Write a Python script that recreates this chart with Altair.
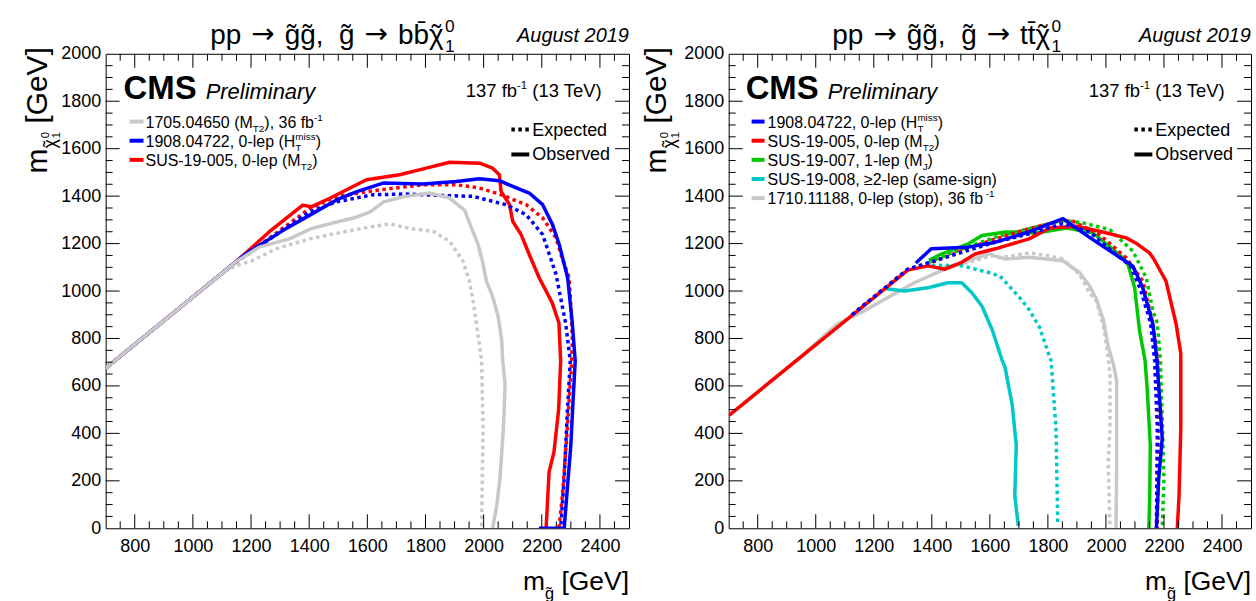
import altair as alt
import pandas as pd

FONT = "Liberation Sans"
PW_L, PW_R, PH = 525, 524, 476

# ---------------- data: left panel (g~ -> b b chi) ----------------
L_GREY_OBS_X = [700, 1150, 1228, 1332, 1407, 1494, 1560, 1610, 1656, 1700, 1726, 1814, 1883, 1935, 1958, 1980, 1995, 2010, 2030, 2050, 2062, 2066, 2074, 2068, 2056, 2045, 2031]
L_GREY_OBS_Y = [675, 1125, 1185, 1220, 1263, 1291, 1310, 1334, 1376, 1390, 1398, 1413, 1392, 1340, 1266, 1200, 1130, 1040, 980, 893, 794, 700, 606, 422, 209, 95, 0]
L_GREY_EXP_X = [700, 1100, 1146, 1204, 1286, 1402, 1517, 1610, 1677, 1749, 1826, 1883, 1929, 1951, 1965, 1975, 1993, 1998, 1993]
L_GREY_EXP_Y = [675, 1075, 1106, 1128, 1178, 1220, 1249, 1270, 1283, 1263, 1252, 1210, 1126, 1042, 950, 865, 709, 422, 0]
L_RED_OBS_X = [700, 1150, 1262, 1378, 1407, 1471, 1597, 1711, 1803, 1883, 1986, 2031, 2054, 2060, 2089, 2100, 2129, 2157, 2191, 2236, 2259, 2265, 2258, 2242, 2225, 2215]
L_RED_OBS_Y = [675, 1125, 1249, 1362, 1355, 1391, 1469, 1490, 1518, 1543, 1539, 1518, 1490, 1420, 1364, 1294, 1238, 1154, 1056, 950, 865, 706, 500, 322, 237, 0]
L_RED_EXP_X = [700, 1150, 1181, 1402, 1494, 1620, 1791, 1906, 1986, 2054, 2146, 2203, 2249, 2271, 2294, 2300, 2305, 2303, 2288, 2271, 2259]
L_RED_EXP_Y = [675, 1125, 1149, 1348, 1398, 1423, 1448, 1448, 1434, 1409, 1364, 1308, 1224, 1135, 1056, 936, 800, 706, 422, 138, 0]
L_BLUE_OBS_X = [700, 1150, 1181, 1320, 1402, 1494, 1564, 1654, 1791, 1906, 1986, 2054, 2100, 2157, 2203, 2237, 2260, 2289, 2305, 2315, 2306, 2300, 2277, 2190]
L_BLUE_OBS_Y = [675, 1125, 1156, 1263, 1320, 1384, 1419, 1455, 1451, 1462, 1473, 1465, 1441, 1413, 1364, 1280, 1196, 1056, 865, 706, 500, 351, 0, 0]
L_BLUE_EXP_X = [700, 1150, 1181, 1402, 1494, 1620, 1734, 1848, 1963, 2077, 2146, 2203, 2249, 2282, 2298, 2288, 2277, 2265]
L_BLUE_EXP_Y = [675, 1125, 1149, 1334, 1376, 1406, 1409, 1403, 1399, 1364, 1322, 1238, 1070, 865, 706, 493, 209, 0]

# ---------------- data: right panel (g~ -> t t chi) ----------------
R_GREY_OBS_X = [700, 950, 1073, 1154, 1236, 1340, 1445, 1526, 1596, 1654, 1735, 1851, 1909, 1944, 1968, 1991, 2008, 2026, 2037, 2037, 2035]
R_GREY_OBS_Y = [475, 725, 860, 908, 964, 1035, 1092, 1128, 1156, 1135, 1142, 1128, 1078, 1021, 964, 879, 766, 690, 621, 280, 0]
R_GREY_EXP_X = [1440, 1503, 1608, 1635, 1738, 1806, 1851, 1910, 1944, 1967, 1990, 2003, 2014, 2014, 2008, 2014]
R_GREY_EXP_Y = [1100, 1114, 1149, 1140, 1161, 1147, 1135, 1070, 990, 958, 860, 766, 652, 422, 280, 0]
R_CYAN_OBS_X = [1236, 1305, 1387, 1456, 1503, 1538, 1573, 1608, 1642, 1652, 1677, 1691, 1686, 1698]
R_CYAN_OBS_Y = [1011, 1000, 1014, 1035, 1035, 993, 936, 837, 709, 680, 521, 351, 138, 10]
R_CYAN_EXP_X = [1400, 1503, 1596, 1635, 1677, 1703, 1735, 1772, 1782, 1811, 1828, 1834]
R_CYAN_EXP_Y = [1108, 1107, 1078, 1063, 1007, 972, 922, 846, 808, 706, 422, 20]
R_GREEN_OBS_X = [1390, 1433, 1526, 1573, 1654, 1761, 1864, 1955, 2059, 2076, 2099, 2116, 2135, 2142, 2153, 2151, 2148]
R_GREEN_OBS_Y = [1130, 1156, 1199, 1234, 1249, 1245, 1266, 1245, 1140, 1112, 1014, 832, 706, 592, 351, 138, 0]
R_GREEN_EXP_X = [1390, 1503, 1619, 1735, 1851, 1921, 2013, 2093, 2139, 2162, 2177, 2188, 2200, 2194]
R_GREEN_EXP_Y = [1121, 1177, 1227, 1263, 1298, 1287, 1259, 1168, 1056, 916, 865, 706, 209, 0]
R_RED_OBS_X = [700, 1317, 1387, 1445, 1503, 1549, 1619, 1735, 1806, 1898, 1978, 2070, 2107, 2150, 2165, 2207, 2242, 2258, 2258, 2258, 2252, 2246]
R_RED_OBS_Y = [475, 1088, 1106, 1092, 1121, 1156, 1178, 1220, 1266, 1273, 1252, 1224, 1199, 1161, 1135, 1042, 860, 737, 600, 422, 138, 0]
R_RED_EXP_X = [1125, 1317, 1387, 1503, 1619, 1735, 1851, 1887, 1978, 2070, 2127, 2162, 2178, 2182, 2177]
R_RED_EXP_Y = [900, 1092, 1114, 1170, 1220, 1263, 1298, 1294, 1238, 1140, 1042, 860, 706, 500, 0]
R_BLUE_OBS_X = [1345, 1398, 1526, 1619, 1735, 1852, 1921, 1968, 2059, 2093, 2127, 2162, 2176, 2188, 2194, 2182, 2174]
R_BLUE_OBS_Y = [1118, 1178, 1185, 1206, 1249, 1305, 1245, 1206, 1133, 1105, 1014, 860, 706, 493, 379, 209, 0]
R_BLUE_EXP_X = [1125, 1317, 1410, 1503, 1619, 1735, 1851, 1944, 2026, 2084, 2119, 2154, 2168, 2177, 2174]
R_BLUE_EXP_Y = [900, 1092, 1128, 1163, 1206, 1241, 1284, 1249, 1163, 1106, 1007, 865, 706, 422, 0]

# ---------------- axes ----------------
X_LABELS = [800, 1000, 1200, 1400, 1600, 1800, 2000, 2200, 2400]
Y_LABELS = [0, 200, 400, 600, 800, 1000, 1200, 1400, 1600, 1800, 2000]
X_MAJ = [800, 1000, 1200, 1400, 1600, 1800, 2000, 2200, 2400]
X_MIN = [v for v in range(750, 2500, 50) if v % 200 != 0]
Y_MAJ = [200, 400, 600, 800, 1000, 1200, 1400, 1600, 1800]
Y_MIN = [v for v in range(50, 2000, 50) if v % 200 != 0]

COL = {"grey": "#C8C8C8", "red": "#FF0000", "blue": "#0000FF", "green": "#00C800", "cyan": "#00C8C8", "black": "#000000"}

# ---------------- text metrics (Arial / Liberation Sans) ----------------
CW = {' ': 278, '(': 333, ')': 333, ',': 278, '-': 333, '.': 278, '[': 278, ']': 278, '\u02dc': 333,
      '\u2265': 549, '\u2192': 1000, '\u03c7': 521, '\u0303': 0, '\u0305': 0, '\u0304': 0}
for c in "0123456789":
    CW[c] = 556
CW.update(dict(zip("ABCDEFGHIJKLMNOPQRSTUVWXYZ",
                   [667, 667, 722, 722, 667, 611, 778, 722, 278, 500, 667, 556, 833, 722, 778, 667, 778, 722, 667, 611, 722, 667, 944, 667, 667, 611])))
CW.update(dict(zip("abcdefghijklmnopqrstuvwxyz",
                   [556, 556, 500, 556, 556, 278, 556, 556, 222, 222, 500, 222, 833, 556, 556, 556, 556, 333, 500, 278, 556, 500, 722, 500, 500, 500])))


def tw(s, size):
    return sum(CW.get(c, 556) for c in s) / 1000.0 * size


SC = 0.62


def N(t, font=FONT):
    return [(t, 1.0, 0.0, None, font)]


def SUB(t):
    return [(t, SC, 0.28, None, FONT)]


def SUP(t):
    return [(t, SC, -0.42, None, FONT)]


def SS(sup, sub, sf=SC, up=-0.42, down=0.28):
    m = max(tw(sup, 1), tw(sub, 1)) * sf
    return [(sup, sf, up, 0.0, FONT), (sub, sf, down, m, FONT)]


def GAP(em):
    return [("", 1.0, 0.0, em, FONT)]


def CHI(sf=1.0, dy=0.0):
    # chi with a tilde accent centred above it
    off = (0.521 - 0.333) / 2 * sf
    return GAP(off) + [("\u02dc", sf, dy, 0.0, FONT)] + GAP(-off) + [("\u03c7", sf, dy, None, FONT)]


ARROW = GAP(0.278) + [("\u2192", 1.0, -0.02, 1.0, "DejaVu Sans")] + GAP(0.278)


def rich(pieces, x, y, size, anchor="left", angle=0, style="normal", weight="normal"):
    def adv(p):
        t, sf, dy, a, f = p
        return tw(t, size * sf) if a is None else a * size
    total = sum(adv(p) for p in pieces)
    pos = -total if anchor == "right" else 0.0
    rows = []
    for p in pieces:
        t, sf, dy, a, f = p
        s = size * sf
        off = 0.0
        for k, seg in enumerate(t.split("  ")):
            if k > 0:
                off += tw("  ", s)
            lead = len(seg) - len(seg.lstrip(" "))
            word = seg.strip(" ")
            if word:
                o = pos + off + tw(seg[:lead], s)
                if f != FONT:
                    o += (adv(p) - 0.84 * s) / 2.0
                if angle == 0:
                    px, py = x + o, y + dy * size
                else:
                    px, py = x + dy * size, y - o
                rows.append(dict(px=px, py=py, t=word, s=s, a=angle, st=style, w=weight, f=f))
            off += tw(seg, s)
        pos += adv(p)
    return rows


def text_layers(rows):
    df = pd.DataFrame(rows)
    out = []
    for (st, w, f), g in df.groupby(["st", "w", "f"]):
        out.append(alt.Chart(g.reset_index(drop=True)).mark_text(
            align="left", baseline="alphabetic", font=f, fontStyle=st, fontWeight=w, color="black"
        ).encode(
            x=alt.X("px:Q", scale=None, axis=None),
            y=alt.Y("py:Q", scale=None, axis=None),
            text="t:N",
            size=alt.Size("s:Q", scale=None, legend=None),
            angle=alt.Angle("a:Q", scale=None, legend=None),
        ))
    return out


XS = alt.Scale(domain=[700, 2500], nice=False, zero=False)
YS = alt.Scale(domain=[0, 2000], nice=False, zero=False)
XAX = alt.Axis(values=X_LABELS, format="d", ticks=False, domain=False, grid=False, title=None, labelFont=FONT,
               labelFontSize=18, labelPadding=9, labelColor="black", labelOverlap=False, labelFlush=False)
YAX = alt.Axis(values=Y_LABELS, format="d", ticks=False, domain=False, grid=False, title=None, labelFont=FONT,
               labelFontSize=18, labelPadding=5, labelColor="black", labelOverlap=False, labelFlush=False)


def XE():
    return alt.X("x:Q", scale=XS, axis=XAX)


def YE():
    return alt.Y("y:Q", scale=YS, axis=YAX)


def curve(xs, ys, color, dashed):
    df = pd.DataFrame({"x": xs, "y": ys, "i": list(range(len(xs)))})
    kw = dict(color=COL[color], strokeWidth=3.5, clip=True, strokeJoin="round")
    if dashed:
        kw["strokeDash"] = [3.5, 3.5]
    return alt.Chart(df).mark_line(**kw).encode(x=XE(), y=YE(), order="i:Q")


def tick_layers(W):
    out = []
    for vals, ln in ((X_MAJ, 14), (X_MIN, 7)):
        d = pd.DataFrame({"x": vals})
        out.append(alt.Chart(d).mark_rule(color="black", strokeWidth=1).encode(
            x=XE(), y=alt.value(PH), y2=alt.value(PH - ln)))
        out.append(alt.Chart(d).mark_rule(color="black", strokeWidth=1).encode(
            x=XE(), y=alt.value(0), y2=alt.value(ln)))
    for vals, ln in ((Y_MAJ, 14), (Y_MIN, 7)):
        d = pd.DataFrame({"y": vals})
        out.append(alt.Chart(d).mark_rule(color="black", strokeWidth=1).encode(
            y=YE(), x=alt.value(0), x2=alt.value(ln)))
        out.append(alt.Chart(d).mark_rule(color="black", strokeWidth=1).encode(
            y=YE(), x=alt.value(W), x2=alt.value(W - ln)))
    return out


def seg_layer(rows, dashed=False):
    df = pd.DataFrame(rows)
    kw = dict(strokeWidth=4)
    if dashed:
        kw["strokeDash"] = [3.5, 3.5]
    return alt.Chart(df).mark_rule(**kw).encode(
        x=alt.X("x1:Q", scale=None, axis=None), x2="x2:Q",
        y=alt.Y("y1:Q", scale=None, axis=None), y2="y2:Q",
        color=alt.Color("c:N", scale=None, legend=None))


def anchor(x1, x2):
    return alt.Chart(pd.DataFrame({"k": [0]})).mark_rect(opacity=0).encode(
        x=alt.value(x1), x2=alt.value(x2), y=alt.value(-52), y2=alt.value(601 - 52))


def title_pieces(q):
    return (N("pp") + ARROW + N("g\u0303g\u0303,  g\u0303") + ARROW +
            N(q + q + "\u0304") + CHI() + GAP(0.05) + SS("0", "1"))


def panel(W, curves, q, entries, ax_left, x_text, x_samp, ytitle_x, left_off, right_ext):
    rows = []
    rows += rich(title_pieces(q), ax_left, -10, 28)
    rows += rich(N("August 2019"), W, -12, 20, anchor="right", style="italic")
    rows += rich(N("CMS"), x_samp[0] - 6, 45, 33, weight="bold")
    rows += rich(N("Preliminary"), x_samp[0] - 6 + tw("CMS", 33) + 9, 45, 22, style="italic")
    rows += rich(N("137 fb") + SUP("-1") + N(" (13 TeV)"), 500, 43, 18.5, anchor="right")
    samples = []
    yc = 68
    for color, pieces in entries:
        rows += rich(pieces, x_text, yc + 6, 16)
        samples.append(dict(x1=x_samp[0], x2=x_samp[1], y1=yc, y2=yc, c=COL[color]))
        yc += 19.2
    rows += rich(N("Expected"), 428, 82, 18)
    rows += rich(N("Observed"), 428, 107, 18)
    rows += rich(N("m") + CHI(0.6, 0.30) + GAP(0.03) + SS("0", "1", 0.38, 0.06, 0.45) + N(" [GeV]"),
                 ytitle_x, 120, 30, angle=270)
    rows += rich([("m", 1, 0, None, FONT), ("g\u0303", 0.62, 0.32, None, FONT), (" [GeV]", 1, 0, None, FONT)],
                 W, 538, 26.5, anchor="right")

    layers = [anchor(-left_off, W + right_ext)]
    layers += [curve(*c) for c in curves]
    layers += tick_layers(W)
    layers.append(seg_layer(samples))
    layers.append(seg_layer([dict(x1=407, x2=425, y1=76, y2=76, c="#000000")], dashed=True))
    layers.append(seg_layer([dict(x1=407, x2=425, y1=101, y2=101, c="#000000")]))
    layers += text_layers(rows)
    return alt.layer(*layers).properties(width=W, height=PH)


left = panel(
    PW_L,
    [(L_RED_EXP_X, L_RED_EXP_Y, "red", True), (L_RED_OBS_X, L_RED_OBS_Y, "red", False),
     (L_BLUE_EXP_X, L_BLUE_EXP_Y, "blue", True), (L_BLUE_OBS_X, L_BLUE_OBS_Y, "blue", False),
     (L_GREY_EXP_X, L_GREY_EXP_Y, "grey", True), (L_GREY_OBS_X, L_GREY_OBS_Y, "grey", False)],
    "b",
    [("grey", N("1705.04650 (M") + SUB("T2") + N("), 36 fb") + SUP("-1")),
     ("blue", N("1908.04722, 0-lep (H") + SS("miss", "T") + N(")")),
     ("red", N("SUS-19-005, 0-lep (M") + SUB("T2") + N(")"))],
    105, 40, (24, 38), -59, 105, 1,
)

right = panel(
    PW_R,
    [(R_GREY_EXP_X, R_GREY_EXP_Y, "grey", True), (R_GREY_OBS_X, R_GREY_OBS_Y, "grey", False),
     (R_CYAN_EXP_X, R_CYAN_EXP_Y, "cyan", True), (R_CYAN_OBS_X, R_CYAN_OBS_Y, "cyan", False),
     (R_GREEN_EXP_X, R_GREEN_EXP_Y, "green", True), (R_GREEN_OBS_X, R_GREEN_OBS_Y, "green", False),
     (R_RED_EXP_X, R_RED_EXP_Y, "red", True), (R_RED_OBS_X, R_RED_OBS_Y, "red", False),
     (R_BLUE_EXP_X, R_BLUE_EXP_Y, "blue", True), (R_BLUE_OBS_X, R_BLUE_OBS_Y, "blue", False)],
    "t",
    [("blue", N("1908.04722, 0-lep (H") + SS("miss", "T") + N(")")),
     ("red", N("SUS-19-005, 0-lep (M") + SUB("T2") + N(")")),
     ("green", N("SUS-19-007, 1-lep (M") + SUB("J") + N(")")),
     ("cyan", N("SUS-19-008, \u22652-lep (same-sign)")),
     ("grey", N("1710.11188, 0-lep (stop), 36 fb") + SUP("-1"))],
    104, 39, (23, 36), -63, 97, 4,
)

chart = alt.hconcat(left, right, spacing=0).properties(
    padding=0, autosize=alt.AutoSizeParams(type="pad"), background="white"
).configure_view(stroke="black", strokeWidth=1)

chart.save("out.html", embed_options={"renderer": "svg", "actions": False})
